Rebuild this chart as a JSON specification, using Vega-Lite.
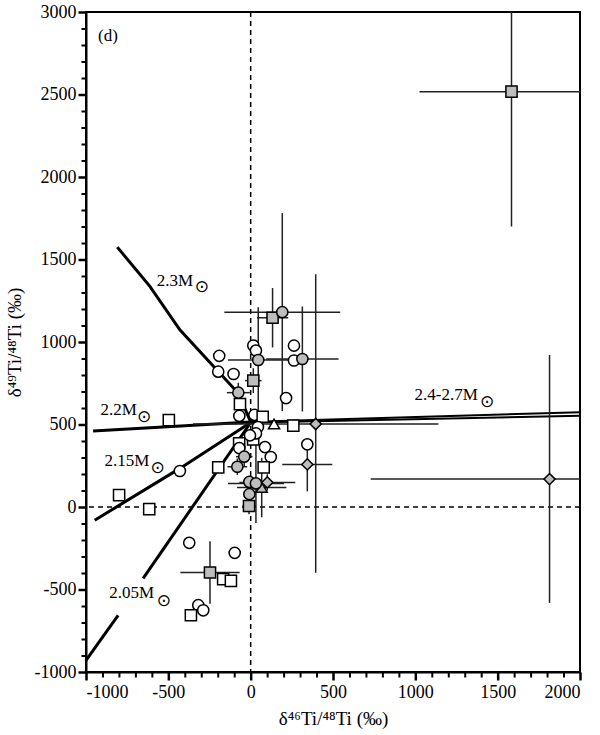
{
  "$schema": "https://vega.github.io/schema/vega-lite/v6.json",
  "width": 494,
  "height": 660,
  "autosize": {"type": "none"},
  "padding": {"left": 86, "top": 12, "right": 20, "bottom": 63},
  "background": "white",
  "resolve": {"axis": {"x": "independent", "y": "independent"}},
  "config": {
    "view": {"stroke": "black", "strokeWidth": 2},
    "font": "Liberation Serif",
    "axis": {
      "grid": false,
      "domainColor": "black",
      "domainWidth": 2,
      "labelFont": "Liberation Serif",
      "labelFontSize": 18,
      "labelColor": "black",
      "labelOverlap": false,
      "titleFont": "Liberation Serif",
      "titleFontSize": 19,
      "titleFontWeight": "normal",
      "titleColor": "black"
    }
  },
  "datasets": {
    "pts": [
      {"x": -191, "y": 916, "shape": "circle", "fill": "open"},
      {"x": -197, "y": 820, "shape": "circle", "fill": "open"},
      {"x": -104, "y": 806, "shape": "circle", "fill": "open"},
      {"x": 16, "y": 979, "shape": "circle", "fill": "open"},
      {"x": 32, "y": 948, "shape": "circle", "fill": "open"},
      {"x": 263, "y": 978, "shape": "circle", "fill": "open"},
      {"x": 263, "y": 888, "shape": "circle", "fill": "open"},
      {"x": 215, "y": 660, "shape": "circle", "fill": "open"},
      {"x": -69, "y": 552, "shape": "circle", "fill": "open"},
      {"x": 23, "y": 558, "shape": "circle", "fill": "open"},
      {"x": -65, "y": 624, "shape": "square", "fill": "open"},
      {"x": 73, "y": 547, "shape": "square", "fill": "open"},
      {"x": 259, "y": 493, "shape": "square", "fill": "open"},
      {"x": -70, "y": 386, "shape": "square", "fill": "open"},
      {"x": 15, "y": 410, "shape": "square", "fill": "open"},
      {"x": 44, "y": 485, "shape": "circle", "fill": "open"},
      {"x": 32, "y": 446, "shape": "circle", "fill": "open"},
      {"x": -4, "y": 434, "shape": "circle", "fill": "open"},
      {"x": -69, "y": 357, "shape": "circle", "fill": "open"},
      {"x": 87, "y": 363, "shape": "circle", "fill": "open"},
      {"x": 122, "y": 303, "shape": "circle", "fill": "open"},
      {"x": -430, "y": 218, "shape": "circle", "fill": "open"},
      {"x": -373, "y": -217, "shape": "circle", "fill": "open"},
      {"x": -97, "y": -278, "shape": "circle", "fill": "open"},
      {"x": -318, "y": -595, "shape": "circle", "fill": "open"},
      {"x": -288, "y": -626, "shape": "circle", "fill": "open"},
      {"x": 344, "y": 380, "shape": "circle", "fill": "open"},
      {"x": -497, "y": 527, "shape": "square", "fill": "open"},
      {"x": -799, "y": 72, "shape": "square", "fill": "open"},
      {"x": -616, "y": -13, "shape": "square", "fill": "open"},
      {"x": -197, "y": 240, "shape": "square", "fill": "open"},
      {"x": 79, "y": 240, "shape": "square", "fill": "open"},
      {"x": -363, "y": -656, "shape": "square", "fill": "open"},
      {"x": -167, "y": -437, "shape": "square", "fill": "open"},
      {"x": -120, "y": -448, "shape": "square", "fill": "open"},
      {"x": 142, "y": 503, "shape": "triangle", "fill": "open"},
      {"x": 133, "y": 1147, "shape": "square", "fill": "gray", "xlo": 38, "xhi": 228, "ylo": 967, "yhi": 1327},
      {"x": 192, "y": 1181, "shape": "circle", "fill": "gray", "xlo": -160, "xhi": 544, "ylo": 581, "yhi": 1781},
      {"x": 46, "y": 891, "shape": "circle", "fill": "gray", "xlo": -138, "xhi": 230, "ylo": 571, "yhi": 1211},
      {"x": 314, "y": 897, "shape": "circle", "fill": "gray", "xlo": 94, "xhi": 534, "ylo": 579, "yhi": 1215},
      {"x": 16, "y": 766, "shape": "square", "fill": "gray", "xlo": -34, "xhi": 66, "ylo": 691, "yhi": 841},
      {"x": -75, "y": 693, "shape": "circle", "fill": "gray", "xlo": -145, "xhi": -5, "ylo": 633, "yhi": 753},
      {"x": -81, "y": 244, "shape": "circle", "fill": "gray", "xlo": -141, "xhi": -21, "ylo": 194, "yhi": 294},
      {"x": -39, "y": 305, "shape": "circle", "fill": "gray", "xlo": -89, "xhi": 11, "ylo": 245, "yhi": 365},
      {"x": 67, "y": 118, "shape": "triangle", "fill": "gray", "xlo": -83, "xhi": 217, "ylo": -62, "yhi": 298},
      {"x": 101, "y": 149, "shape": "diamond", "fill": "gray", "xlo": -69, "xhi": 271, "ylo": 99, "yhi": 199},
      {"x": -8, "y": 152, "shape": "circle", "fill": "gray"},
      {"x": 32, "y": 143, "shape": "circle", "fill": "gray", "xlo": -138, "xhi": 202, "ylo": -97, "yhi": 383},
      {"x": -8, "y": 78, "shape": "circle", "fill": "gray"},
      {"x": -10, "y": 6, "shape": "square", "fill": "gray", "xlo": -50, "xhi": 30, "ylo": -44, "yhi": 56},
      {"x": -247, "y": -397, "shape": "square", "fill": "gray", "xlo": -427, "xhi": -67, "ylo": -587, "yhi": -207},
      {"x": 395, "y": 503, "shape": "diamond", "fill": "gray", "xlo": -350, "xhi": 1140, "ylo": -399, "yhi": 1410},
      {"x": 344, "y": 258, "shape": "diamond", "fill": "gray", "xlo": 192, "xhi": 496, "ylo": 95, "yhi": 405},
      {"x": 1815, "y": 169, "shape": "diamond", "fill": "gray", "xlo": 729, "xhi": 2900, "ylo": -581, "yhi": 922},
      {"x": 1584, "y": 2517, "shape": "square", "fill": "gray", "xlo": 1025, "xhi": 2143, "ylo": 1700, "yhi": 3334}
    ],
    "lines": [
      {"series": "2.3", "group": "main", "i": 1, "x": -810, "y": 1575},
      {"series": "2.3", "group": "main", "i": 2, "x": -612, "y": 1337},
      {"series": "2.3", "group": "main", "i": 3, "x": -430, "y": 1074},
      {"series": "2.3", "group": "main", "i": 4, "x": -75, "y": 689},
      {"series": "2.3", "group": "main", "i": 5, "x": 0, "y": 515},
      {"series": "2.2", "group": "main", "i": 1, "x": -957, "y": 461},
      {"series": "2.2", "group": "main", "i": 2, "x": 0, "y": 515},
      {"series": "2.15", "group": "main", "i": 1, "x": -947, "y": -80},
      {"series": "2.15", "group": "main", "i": 2, "x": -430, "y": 234},
      {"series": "2.15", "group": "main", "i": 3, "x": 0, "y": 512},
      {"series": "2.05a", "group": "main", "i": 1, "x": -1000, "y": -930},
      {"series": "2.05a", "group": "main", "i": 2, "x": -805, "y": -657},
      {"series": "2.05b", "group": "main", "i": 1, "x": -653, "y": -433},
      {"series": "2.05b", "group": "main", "i": 2, "x": 0, "y": 512},
      {"series": "2.4a", "group": "hi", "i": 1, "x": 0, "y": 516},
      {"series": "2.4a", "group": "hi", "i": 2, "x": 2000, "y": 575},
      {"series": "2.4b", "group": "hi", "i": 1, "x": 0, "y": 512},
      {"series": "2.4b", "group": "hi", "i": 2, "x": 2000, "y": 553}
    ],
    "labels": [
      {"label": "2.3M", "x": -460, "y": 1371, "sx": -296, "sy": 1336},
      {"label": "2.2M", "x": -801, "y": 588, "sx": -647, "sy": 547},
      {"label": "2.15M", "x": -752, "y": 279, "sx": -565, "sy": 234},
      {"label": "2.05M", "x": -722, "y": -522, "sx": -527, "sy": -569},
      {"label": "2.4-2.7M", "x": 1187, "y": 679, "sx": 1436, "sy": 635}
    ]
  },
  "layer": [
    {
      "data": {"values": [{"v": 0}]},
      "mark": {"type": "rule", "color": "black", "strokeWidth": 1.5, "strokeDash": [5, 4]},
      "encoding": {
        "x": {
          "field": "v",
          "type": "quantitative",
          "scale": {"domain": [-1000, 2000], "nice": false, "zero": false},
          "axis": {
            "orient": "bottom",
            "title": "δ⁴⁶Ti/⁴⁸Ti (‰)",
            "values": [-1000, -500, 0, 500, 1000, 1500, 2000],
            "labelExpr": "'' + datum.value",
            "ticks": true,
            "tickColor": "black",
            "tickWidth": 2.5,
            "tickSize": 8,
            "tickRound": false,
            "labelPadding": 3,
            "titlePadding": 8
          }
        }
      }
    },
    {
      "data": {"values": [{"v": 0}]},
      "mark": {"type": "rule", "color": "black", "strokeWidth": 1.5, "strokeDash": [5, 4]},
      "encoding": {
        "y": {
          "field": "v",
          "type": "quantitative",
          "scale": {"domain": [-1000, 3000], "nice": false, "zero": false},
          "axis": {
            "orient": "left",
            "title": "δ⁴⁹Ti/⁴⁸Ti (‰)",
            "values": [-1000, -500, 0, 500, 1000, 1500, 2000, 2500, 3000],
            "labelExpr": "'' + datum.value",
            "ticks": true,
            "tickColor": "black",
            "tickWidth": 2.5,
            "tickSize": 8,
            "tickRound": false,
            "labelPadding": 2,
            "titlePadding": 10
          }
        }
      }
    },
    {
      "data": {"name": "lines"},
      "transform": [{"filter": "datum.group === 'main'"}],
      "mark": {"type": "line", "color": "black", "strokeWidth": 3, "clip": true},
      "encoding": {
        "x": {"field": "x", "type": "quantitative", "axis": {"orient": "bottom", "values": [-900,-800,-700,-600,-400,-300,-200,-100,100,200,300,400,600,700,800,900,1100,1200,1300,1400,1600,1700,1800,1900], "labels": false, "domain": false, "ticks": true, "tickColor": "black", "tickWidth": 2, "tickSize": 5, "tickRound": false, "title": null}},
        "y": {"field": "y", "type": "quantitative", "axis": {"orient": "left", "values": [-900,-800,-700,-600,-400,-300,-200,-100,100,200,300,400,600,700,800,900,1100,1200,1300,1400,1600,1700,1800,1900,2100,2200,2300,2400,2600,2700,2800,2900], "labels": false, "domain": false, "ticks": true, "tickColor": "black", "tickWidth": 2, "tickSize": 5, "tickRound": false, "title": null}},
        "detail": {"field": "series"},
        "order": {"field": "i"}
      }
    },
    {
      "data": {"name": "lines"},
      "transform": [{"filter": "datum.group === 'hi'"}],
      "mark": {"type": "line", "color": "black", "strokeWidth": 2, "clip": true},
      "encoding": {
        "x": {"field": "x", "type": "quantitative", "axis": null},
        "y": {"field": "y", "type": "quantitative", "axis": null},
        "detail": {"field": "series"},
        "order": {"field": "i"}
      }
    },
    {
      "data": {"name": "pts"},
      "transform": [{"filter": "isValid(datum.xlo)"}],
      "mark": {"type": "rule", "color": "#222", "strokeWidth": 1.5, "clip": true},
      "encoding": {
        "x": {"field": "xlo", "type": "quantitative", "axis": null},
        "x2": {"field": "xhi"},
        "y": {"field": "y", "type": "quantitative", "axis": null}
      }
    },
    {
      "data": {"name": "pts"},
      "transform": [{"filter": "isValid(datum.ylo)"}],
      "mark": {"type": "rule", "color": "#222", "strokeWidth": 1.5, "clip": true},
      "encoding": {
        "x": {"field": "x", "type": "quantitative", "axis": null},
        "y": {"field": "ylo", "type": "quantitative", "axis": null},
        "y2": {"field": "yhi"}
      }
    },
    {
      "data": {"name": "pts"},
      "mark": {"type": "point", "filled": true, "stroke": "black", "strokeWidth": 1.5, "opacity": 1},
      "encoding": {
        "x": {"field": "x", "type": "quantitative", "axis": null},
        "y": {"field": "y", "type": "quantitative", "axis": null},
        "shape": {"field": "shape", "type": "nominal", "legend": null,
          "scale": {"domain": ["circle", "square", "diamond", "triangle"], "range": ["circle", "square", "M-1,0L0,-1L1,0L0,1Z", "triangle-up"]}},
        "fill": {"field": "fill", "type": "nominal", "legend": null,
          "scale": {"domain": ["open", "gray"], "range": ["white", "#bdbdbd"]}},
        "size": {"field": "shape", "type": "nominal", "legend": null,
          "scale": {"domain": ["circle", "square", "diamond", "triangle"], "range": [125, 125, 340, 130]}}
      }
    },
    {
      "data": {"name": "labels"},
      "mark": {"type": "text", "font": "Liberation Serif", "fontSize": 17, "color": "black", "align": "center", "baseline": "middle"},
      "encoding": {
        "x": {"field": "x", "type": "quantitative", "axis": null},
        "y": {"field": "y", "type": "quantitative", "axis": null},
        "text": {"field": "label"}
      }
    },
    {
      "data": {"name": "labels"},
      "mark": {"type": "text", "font": "DejaVu Sans", "fontSize": 17, "color": "black", "align": "center", "baseline": "middle", "text": "⊙"},
      "encoding": {
        "x": {"field": "sx", "type": "quantitative", "axis": null},
        "y": {"field": "sy", "type": "quantitative", "axis": null}
      }
    },
    {
      "data": {"values": [{"t": "(d)", "x": -867, "y": 2857}]},
      "mark": {"type": "text", "font": "Liberation Serif", "fontSize": 17, "color": "black", "align": "center", "baseline": "middle"},
      "encoding": {
        "x": {"field": "x", "type": "quantitative", "axis": null},
        "y": {"field": "y", "type": "quantitative", "axis": null},
        "text": {"field": "t"}
      }
    }
  ]
}
